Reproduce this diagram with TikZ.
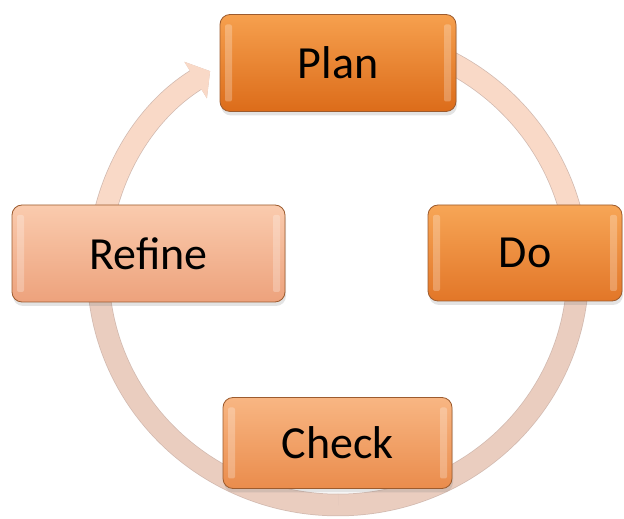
\documentclass[tikz,border=0pt]{standalone}
\usepackage{fontspec}
\setmainfont{Carlito}
\usetikzlibrary{arrows.meta,shadows,backgrounds}

\definecolor{planTop}{HTML}{F6A04E}
\definecolor{planMid}{HTML}{EC7C24}
\definecolor{planBot}{HTML}{DC6C1A}
\definecolor{doTop}{HTML}{F7A656}
\definecolor{doMid}{HTML}{EF8434}
\definecolor{doBot}{HTML}{E27628}
\definecolor{checkTop}{HTML}{F8B683}
\definecolor{checkMid}{HTML}{F29A5C}
\definecolor{checkBot}{HTML}{EA8C4C}
\definecolor{refineTop}{HTML}{FACBAE}
\definecolor{refineMid}{HTML}{F5B28E}
\definecolor{refineBot}{HTML}{EDA27C}
\definecolor{stageEdge}{HTML}{9C5B2E}
\definecolor{ringLight}{HTML}{F9D9C7}
\definecolor{ringDark}{HTML}{EACDBF}
\definecolor{ringEdge}{HTML}{D2BAB0}

\tikzset{
  stage/.style={rounded corners=10pt, draw=stageEdge, line width=0.8pt,
    inner sep=0pt, text=black, font=\fontsize{46}{50}\selectfont,
    drop shadow={opacity=0.22, shadow xshift=1pt, shadow yshift=-4pt},
    path picture={
      \fill[white, opacity=0.25, rounded corners=2pt]
        ([xshift=5pt,yshift=10pt]path picture bounding box.south west) rectangle
        ([xshift=12pt,yshift=-10pt]path picture bounding box.north west);
      \fill[white, opacity=0.25, rounded corners=2pt]
        ([xshift=-5pt,yshift=10pt]path picture bounding box.south east) rectangle
        ([xshift=-12pt,yshift=-10pt]path picture bounding box.north east);
    }},
  ring/.style={line width=21pt, preaction={draw=ringEdge, line width=22.5pt}},
}

\begin{document}
\begin{tikzpicture}[x=1pt,y=1pt]
  \useasboundingbox (0,0) rectangle (624,519);
  %% centre of the cycle
  \coordinate (hub) at (338,249);
  %% four stages
  \node[stage, top color=planTop, middle color=planMid, bottom color=planBot,
        minimum width=236pt, minimum height=97pt] (plan) at (338,456) {Plan};
  \node[stage, top color=doTop, middle color=doMid, bottom color=doBot,
        minimum width=194pt, minimum height=96pt] (do) at (525,266) {Do};
  \node[stage, top color=checkTop, middle color=checkMid, bottom color=checkBot,
        minimum width=229pt, minimum height=91pt] (check) at (337.5,76) {Check};
  \node[stage, top color=refineTop, middle color=refineMid, bottom color=refineBot,
        minimum width=273pt, minimum height=97pt] (refine) at (148.5,265.5) {Refine};
  %% ring behind the stages
  \begin{scope}[on background layer]
    \draw[ring, ringLight] ([shift={(85:240pt and 235pt)}]hub)
      arc[start angle=85, end angle=-5, x radius=240pt, y radius=235pt];
    \draw[ring, ringDark] ([shift={(-5:240pt and 235pt)}]hub)
      arc[start angle=-5, end angle=-90, x radius=240pt, y radius=235pt];
    \draw[ring, ringDark] ([shift={(-90:240pt and 235pt)}]hub)
      arc[start angle=-90, end angle=-175, x radius=240pt, y radius=235pt];
    \draw[ring, ringLight, -{Triangle[length=17pt,width=42pt]}] ([shift={(185:240pt and 235pt)}]hub)
      arc[start angle=185, end angle=122.2, x radius=240pt, y radius=235pt];
  \end{scope}
\end{tikzpicture}
\end{document}
